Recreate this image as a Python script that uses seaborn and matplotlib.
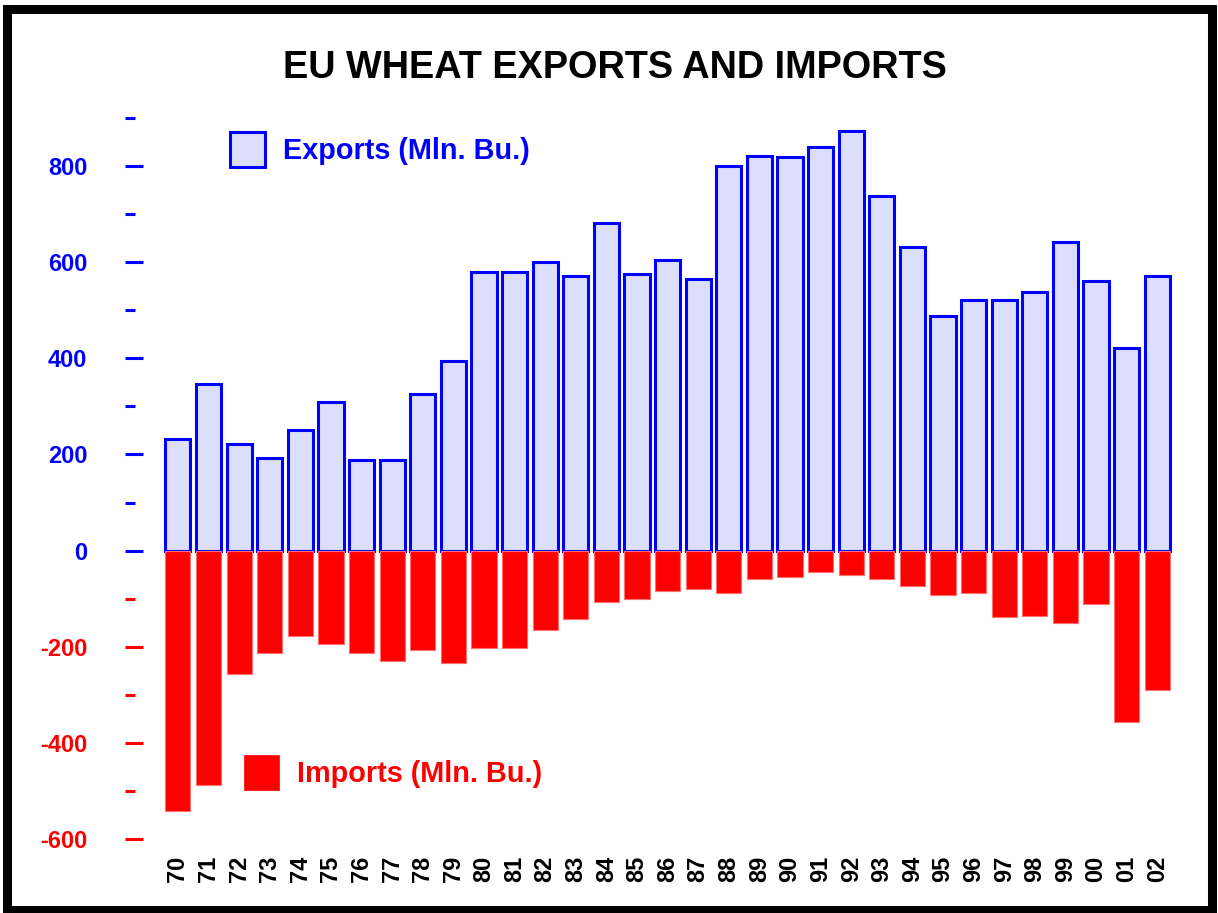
import matplotlib
matplotlib.use('Agg')
import matplotlib.pyplot as plt
import matplotlib.patches as mpatches
import seaborn as sns
import pandas as pd

years = ['70', '71', '72', '73', '74', '75', '76', '77', '78', '79',
         '80', '81', '82', '83', '84', '85', '86', '87', '88', '89',
         '90', '91', '92', '93', '94', '95', '96', '97', '98', '99',
         '00', '01', '02']
exports = [233, 347, 222, 193, 251, 310, 189, 189, 326, 395,
           580, 580, 600, 571, 681, 575, 605, 565, 800, 821,
           819, 839, 873, 738, 632, 488, 521, 521, 538, 642,
           561, 422, 571]
imports = [-542, -488, -256, -214, -177, -195, -214, -229, -206, -233,
           -202, -202, -166, -143, -106, -100, -85, -79, -89, -60,
           -54, -44, -50, -60, -73, -93, -89, -139, -137, -150,
           -112, -357, -289]

major_ticks = [-600, -400, -200, 0, 200, 400, 600, 800]
minor_ticks = [-500, -300, -100, 100, 300, 500, 700, 900]

blue = '#0000ff'
red = '#ff0000'
light_blue = '#dcdffb'

sns.set_style('white')
plt.rcParams['font.family'] = ['Liberation Sans', 'DejaVu Sans']
plt.rcParams['font.weight'] = 'bold'

df = pd.DataFrame({'year': years, 'exports': exports, 'imports': imports})

fig = plt.figure(figsize=(12.18, 9.13), dpi=100)
ax = fig.add_axes([125 / 1218, 1 - 839 / 913, 1050 / 1218, (839 - 118) / 913])

sns.barplot(data=df, x='year', y='exports', color=light_blue, edgecolor=blue,
            linewidth=2.2, width=0.82, saturation=1, errorbar=None, ax=ax)
sns.barplot(data=df, x='year', y='imports', color=red, edgecolor='#ff7070',
            linewidth=0.8, width=0.82, saturation=1, errorbar=None, ax=ax)

ax.set_xlim(-1.73, 32.58)
ax.set_ylim(-600, 900)
for s in ax.spines.values():
    s.set_visible(False)
ax.set_xlabel('')
ax.set_ylabel('')

ax.set_yticks(major_ticks)
ax.set_yticklabels([str(v) for v in major_ticks])
ax.set_yticks(minor_ticks, minor=True)
ax.tick_params(axis='y', which='major', direction='in', length=13, width=2.2,
               pad=27, labelsize=17, left=True)
ax.tick_params(axis='y', which='minor', direction='in', length=7.5, width=2.2,
               left=True)
for v, tick in zip(major_ticks, ax.yaxis.get_major_ticks()):
    c = blue if v >= 0 else red
    tick.tick1line.set_markeredgecolor(c)
    tick.label1.set_color(c)
    tick.label1.set_fontweight('bold')
for v, tick in zip(minor_ticks, ax.yaxis.get_minor_ticks()):
    tick.tick1line.set_markeredgecolor(blue if v >= 0 else red)

ax.tick_params(axis='x', length=0, pad=12, labelsize=17, labelrotation=90,
               labelcolor='black')
for lab in ax.get_xticklabels():
    lab.set_fontweight('bold')
    lab.set_va('top')

fig.text(0.505, 1 - 68 / 913, 'EU WHEAT EXPORTS AND IMPORTS', ha='center',
         va='center', fontsize=27.3, fontweight='bold', color='black')

h_exp = mpatches.Patch(facecolor=light_blue, edgecolor=blue, linewidth=2.2)
h_imp = mpatches.Patch(facecolor=red, edgecolor=red, linewidth=0.5)
leg1 = fig.legend([h_exp], ['Exports (Mln. Bu.)'], loc='center left',
                  bbox_to_anchor=(230 / 1218, 1 - 149.5 / 913), frameon=False,
                  fontsize=20.8, handlelength=1.21, handleheight=1.45,
                  handletextpad=0.62, borderpad=0, borderaxespad=0)
for t in leg1.get_texts():
    t.set_color(blue)
    t.set_fontweight('bold')
leg2 = fig.legend([h_imp], ['Imports (Mln. Bu.)'], loc='center left',
                  bbox_to_anchor=(244 / 1218, 1 - 772.5 / 913), frameon=False,
                  fontsize=20.8, handlelength=1.21, handleheight=1.45,
                  handletextpad=0.62, borderpad=0, borderaxespad=0)
for t in leg2.get_texts():
    t.set_color(red)
    t.set_fontweight('bold')

frame = mpatches.Rectangle((7 / 1218, 1 - 910 / 913), 1205 / 1218, 901 / 913,
                           transform=fig.transFigure, fill=False,
                           edgecolor='black', linewidth=6.5)
fig.patches.append(frame)

fig.savefig('out.png', dpi=100, facecolor='white')
